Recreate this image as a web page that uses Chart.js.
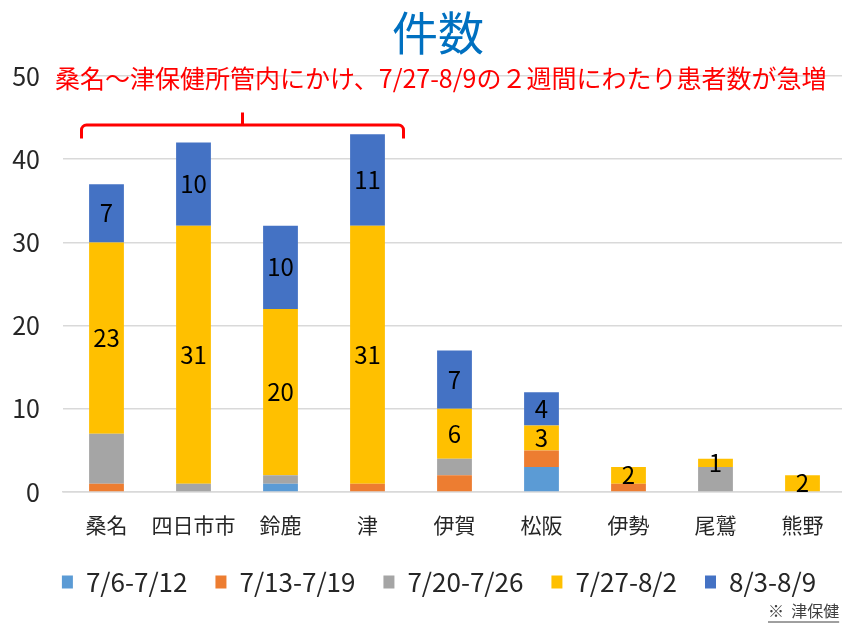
<!DOCTYPE html>
<html lang="ja">
<head>
<meta charset="utf-8">
<script src="https://cdn.jsdelivr.net/npm/chart.js@4"></script>
<style>
html, body { margin: 0; padding: 0; background: #fff; overflow: hidden; }
#wrap { width: 876px; height: 624px; }
</style>
</head>
<body>
<div id="wrap"><canvas id="chart" width="876" height="624"></canvas></div>
<script>
const FONT = '"Noto Sans CJK JP", "Noto Sans", sans-serif';

// data
const areas = ['桑名', '四日市市', '鈴鹿', '津', '伊賀', '松阪', '伊勢', '尾鷲', '熊野'];
const weeks = ['7/6-7/12', '7/13-7/19', '7/20-7/26', '7/27-8/2', '8/3-8/9'];
const week1 = [0, 0, 1, 0, 0, 3, 0, 0, 0];
const week2 = [1, 0, 0, 1, 2, 2, 1, 0, 0];
const week3 = [6, 1, 1, 0, 2, 0, 0, 3, 0];
const week4 = [23, 31, 20, 31, 6, 3, 2, 1, 2];
const week5 = [7, 10, 10, 11, 7, 4, 0, 0, 0];
const yTicks = [0, 10, 20, 30, 40, 50];
const colors = ['#5B9BD5', '#ED7D31', '#A5A5A5', '#FFC000', '#4472C4'];

const titleText = '件数';
const noteText = '桑名～津保健所管内にかけ、7/27-8/9の２週間にわたり患者数が急増';
const sourceText = '※  津保健';

const series = [week1, week2, week3, week4, week5];
const labelled = [3, 4]; // only the last two weeks carry numbers

// nudge the legend so it sits under the middle of the plot like the original
const legendShift = {
    id: 'legendShift',
    afterLayout(chart) {
        chart.legend.left += 16;
        chart.legend.right += 16;
    }
};

// title, red note, bracket and source
const decorPlugin = {
    id: 'decor',
    afterDraw(chart) {
        const ctx = chart.ctx;
        const x = chart.scales.x;
        const y = chart.scales.y;
        ctx.save();
        ctx.textBaseline = 'middle';

        ctx.fillStyle = '#0070C0';
        ctx.font = '46px ' + FONT;
        ctx.textAlign = 'center';
        ctx.fillText(titleText, 438, 33);

        ctx.fillStyle = '#FF0000';
        ctx.font = '25px ' + FONT;
        ctx.textAlign = 'left';
        ctx.fillText(noteText, 55, 78);

        // bracket over 桑名..津
        const left = x.getPixelForValue(0) - 25;
        const right = x.getPixelForValue(3) + 36;
        const top = y.getPixelForValue(44.1);
        const bottom = y.getPixelForValue(42.5);
        const mid = (left + right) / 2;
        const r = 5;
        ctx.strokeStyle = '#FF0000';
        ctx.lineWidth = 3;
        ctx.lineJoin = 'round';
        ctx.beginPath();
        ctx.moveTo(left, bottom);
        ctx.arcTo(left, top, left + r, top, r);
        ctx.lineTo(right - r, top);
        ctx.arcTo(right, top, right, bottom, r);
        ctx.lineTo(right, bottom);
        ctx.moveTo(mid, top);
        ctx.lineTo(mid, y.getPixelForValue(45.6));
        ctx.stroke();

        ctx.fillStyle = '#404040';
        ctx.font = '16px ' + FONT;
        ctx.fillText(sourceText, 768, 611);
        const w = ctx.measureText(sourceText).width;
        ctx.strokeStyle = '#404040';
        ctx.lineWidth = 1;
        ctx.beginPath();
        ctx.moveTo(768, 622);
        ctx.lineTo(768 + w, 622);
        ctx.stroke();
        ctx.restore();
    }
};

// numbers inside the segments
const valuePlugin = {
    id: 'values',
    afterDatasetsDraw(chart) {
        const ctx = chart.ctx;
        ctx.save();
        ctx.font = '24px ' + FONT;
        ctx.fillStyle = '#000';
        ctx.textAlign = 'center';
        ctx.textBaseline = 'middle';
        labelled.forEach(di => {
            const meta = chart.getDatasetMeta(di);
            meta.data.forEach((bar, i) => {
                const v = series[di][i];
                if (!v) return;
                const p = bar.getCenterPoint();
                ctx.fillText(String(v), p.x, p.y);
            });
        });
        ctx.restore();
    }
};

const ctx = document.getElementById('chart').getContext('2d');
new Chart(ctx, {
    type: 'bar',
    data: {
        labels: areas,
        datasets: weeks.map((w, i) => ({
            label: w,
            data: series[i],
            backgroundColor: colors[i],
            borderWidth: 0,
            barPercentage: 0.4,
            categoryPercentage: 1
        }))
    },
    options: {
        responsive: false,
        animation: false,
        layout: { padding: { top: 76, right: 30, bottom: 19, left: 0 } },
        plugins: {
            legend: {
                position: 'bottom',
                labels: {
                    boxWidth: 11,
                    boxHeight: 13,
                    padding: 28,
                    color: '#262626',
                    font: { family: FONT, size: 26 }
                }
            },
            tooltip: { enabled: false }
        },
        scales: {
            x: {
                stacked: true,
                grid: { display: false },
                border: { color: '#D9D9D9', width: 1.5 },
                ticks: {
                    autoSkip: false,
                    maxRotation: 0,
                    padding: 12,
                    color: '#262626',
                    font: { family: FONT, size: 21 }
                },
                afterFit(s) { s.height = 49; }
            },
            y: {
                stacked: true,
                min: 0,
                max: 50,
                afterBuildTicks(s) { s.ticks = yTicks.map(v => ({ value: v })); },
                grid: { color: '#D9D9D9', lineWidth: 1.5, drawTicks: false },
                border: { display: false },
                ticks: {
                    padding: 23,
                    color: '#262626',
                    font: { family: FONT, size: 25 }
                },
                afterFit(s) { s.width = 63; }
            }
        }
    },
    plugins: [valuePlugin, decorPlugin, legendShift]
});
</script>
</body>
</html>
